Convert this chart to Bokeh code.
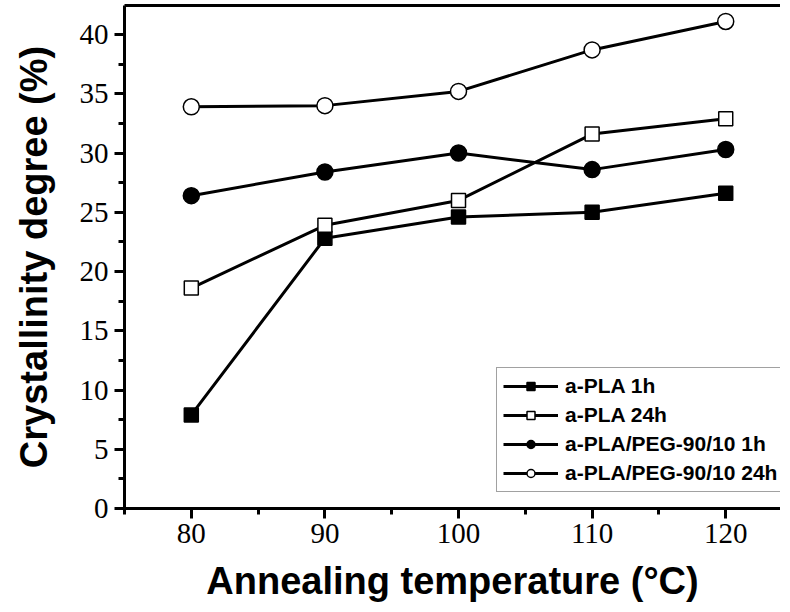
from bokeh.plotting import figure
from bokeh.models import LinearAxis, FixedTicker, Range1d, SingleIntervalTicker
from bokeh.embed import file_html
from bokeh.resources import INLINE

# ---- data ----
temps = [80, 90, 100, 110, 120]
pla_1h = [7.9, 22.8, 24.6, 25.0, 26.6]
pla_24h = [18.6, 23.9, 26.0, 31.6, 32.9]
peg_1h = [26.4, 28.4, 30.0, 28.6, 30.3]
peg_24h = [33.9, 34.0, 35.2, 38.7, 41.1]

labels = ["a-PLA 1h", "a-PLA 24h", "a-PLA/PEG-90/10 1h", "a-PLA/PEG-90/10 24h"]
series = [pla_1h, pla_24h, peg_1h, peg_24h]
markers = ["square", "square", "circle", "circle"]
fills = ["black", "white", "black", "white"]
sizes = [14, 14, 16, 16]

x_label = "Annealing temperature (°C)"
y_label = "Crystallinity degree (%)"

p = figure(width=780, height=604,
           x_range=Range1d(75, 124.1), y_range=Range1d(0, 42.45),
           output_backend="svg", toolbar_location=None,
           min_border_left=124, min_border_right=0,
           min_border_top=5, min_border_bottom=0)
p.xgrid.visible = False
p.ygrid.visible = False
p.outline_line_color = None
p.background_fill_color = "white"
p.border_fill_color = "white"

p.xaxis.ticker = SingleIntervalTicker(interval=10, num_minor_ticks=2)
p.yaxis.ticker = SingleIntervalTicker(interval=5, num_minor_ticks=2)

for ax in (p.xaxis, p.yaxis):
    ax.axis_line_width = 3
    ax.major_tick_line_width = 3
    ax.minor_tick_line_width = 3
    ax.major_tick_in = 0
    ax.major_tick_out = 10
    ax.minor_tick_in = 0
    ax.minor_tick_out = 6
    ax.major_label_text_font = "Liberation Serif"
    ax.major_label_text_font_size = "29px"
    ax.major_label_text_color = "black"
    ax.axis_label_text_font = "Liberation Sans"
    ax.axis_label_text_font_style = "bold"
    ax.axis_label_text_font_size = "38px"
    ax.axis_label_text_color = "black"

p.xaxis.axis_label = x_label
p.yaxis.axis_label = y_label
p.xaxis.major_label_standoff = 5
p.yaxis.major_label_standoff = 6
p.xaxis.axis_label_standoff = 14
p.yaxis.axis_label_standoff = 22

top = LinearAxis(ticker=FixedTicker(ticks=[]), axis_line_width=3,
                 major_tick_line_color=None, minor_tick_line_color=None)
p.add_layout(top, "above")

for lab, ys in zip(labels, series):
    p.line(temps, ys, line_color="black", line_width=3, legend_label=lab)
for lab, ys, m, f, s in zip(labels, series, markers, fills, sizes):
    p.scatter(temps, ys, marker=m, size=s, fill_color=f, line_color="black",
              line_width=1.5, legend_label=lab)

lg = p.legend[0]
lg.location = (372, 16)
lg.label_text_font = "Liberation Sans"
lg.label_text_font_style = "bold"
lg.label_text_font_size = "21px"
lg.label_text_color = "black"
lg.glyph_width = 55
lg.glyph_height = 20
lg.label_height = 20
lg.spacing = 5
lg.padding = 6
lg.margin = 0
lg.label_standoff = 7
lg.border_line_color = "#444444"
lg.border_line_width = 1.5
lg.background_fill_alpha = 1

open("out.html", "w").write(file_html(p, INLINE))
